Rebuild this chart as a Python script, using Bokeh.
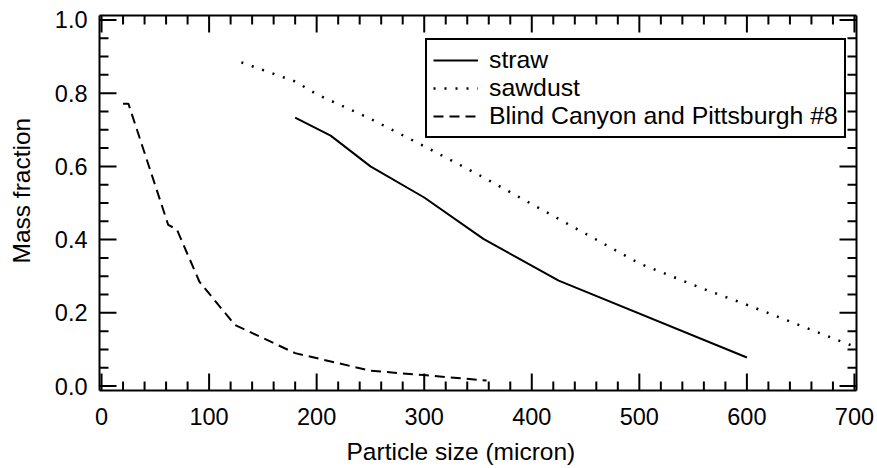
import math
from bokeh.plotting import figure
from bokeh.models import (LinearAxis, Range1d, SingleIntervalTicker, NumeralTickFormatter,
                          Legend, LegendItem, Title)
from bokeh.embed import file_html
from bokeh.resources import INLINE

# Mass fraction versus particle size
straw_x = [180, 213, 250, 300, 355, 425, 600]
straw_y = [0.733, 0.684, 0.600, 0.515, 0.402, 0.288, 0.078]

sawdust_x = [130, 180, 200, 250, 300, 350, 400, 450, 500, 560, 600, 650, 700]
sawdust_y = [0.884, 0.832, 0.797, 0.730, 0.655, 0.578, 0.497, 0.416, 0.335, 0.265, 0.222, 0.165, 0.108]

coal_x = [20, 25, 62, 70, 91, 124, 180, 250, 300, 358]
coal_y = [0.771, 0.771, 0.440, 0.428, 0.285, 0.167, 0.090, 0.042, 0.030, 0.015]

series_labels = ["straw", "sawdust", "Blind Canyon and Pittsburgh #8"]

# tick positions (inward ticks on all four sides)
x_major = [0, 100, 200, 300, 400, 500, 600, 700]
x_minor = [v for v in range(20, 700, 20) if v % 100]
y_major = [0.0, 0.2, 0.4, 0.6, 0.8, 1.0]
y_minor = [round(0.05 * k, 2) for k in range(1, 20) if k % 4]

X0, X1 = -1.9, 701.9
Y0, Y1 = -0.012, 1.012

FONT = "Liberation Sans"

p = figure(width=877, height=468, output_backend="svg", toolbar_location=None,
           x_range=Range1d(X0, X1), y_range=Range1d(Y0, Y1),
           x_axis_location=None, y_axis_location=None,
           min_border_left=99, min_border_right=21, min_border_top=15, min_border_bottom=78)
p.grid.visible = False
p.outline_line_color = None
p.background_fill_color = "white"
p.border_fill_color = "white"


def style_axis(ax, show_labels):
    ax.axis_line_color = "black"
    ax.axis_line_width = 2
    ax.major_tick_line_color = None
    ax.minor_tick_line_color = None
    ax.major_tick_in = 0
    ax.major_tick_out = 0
    ax.minor_tick_in = 0
    ax.minor_tick_out = 0
    if show_labels:
        ax.major_label_text_font = FONT
        ax.major_label_text_font_size = "23.5px"
        ax.major_label_text_color = "black"
    else:
        ax.major_label_text_font_size = "0px"
        ax.major_label_text_color = None
        ax.major_label_standoff = 0


xb = LinearAxis(ticker=SingleIntervalTicker(interval=100))
style_axis(xb, True)
xb.major_label_standoff = 17
# blank spacer line under the tick labels, keeps the title clear of them
xb.axis_label = " "
xb.axis_label_text_font_size = "7px"
xb.axis_label_standoff = 0
p.add_layout(xb, "below")

yl = LinearAxis(ticker=SingleIntervalTicker(interval=0.2), formatter=NumeralTickFormatter(format="0.0"))
style_axis(yl, True)
yl.major_label_standoff = 12
yl.axis_label = " "
yl.axis_label_text_font_size = "10px"
yl.axis_label_standoff = 1
p.add_layout(yl, "left")

xa = LinearAxis(ticker=SingleIntervalTicker(interval=100))
style_axis(xa, False)
p.add_layout(xa, "above")

yr = LinearAxis(ticker=SingleIntervalTicker(interval=0.2))
style_axis(yr, False)
p.add_layout(yr, "right")

# axis titles, set slightly off-centre along their axes
title_kw = dict(text_font=FONT, text_font_size="24.5px", text_font_style="normal",
                text_color="black", align="left", vertical_align="top", standoff=0)
p.add_layout(Title(text="Particle size (micron)", offset=247, **title_kw), "below")
p.add_layout(Title(text="Mass fraction", offset=127, **title_kw), "left")

# inward tick marks, drawn as screen-length rays from each frame edge
tick_kw = dict(line_color="black", line_width=2, length_units="screen")
for ticks, size in ((x_major, 17), (x_minor, 9)):
    p.ray(x=ticks, y=[Y0] * len(ticks), length=size, angle=math.pi / 2, **tick_kw)
    p.ray(x=ticks, y=[Y1] * len(ticks), length=size, angle=-math.pi / 2, **tick_kw)
for ticks, size in ((y_major, 17), (y_minor, 9)):
    p.ray(x=[X0] * len(ticks), y=ticks, length=size, angle=0, **tick_kw)
    p.ray(x=[X1] * len(ticks), y=ticks, length=size, angle=math.pi, **tick_kw)

r_straw = p.line(straw_x, straw_y, line_color="black", line_width=2)
r_saw = p.line(sawdust_x, sawdust_y, line_color="black", line_width=2.5, line_dash="2 9")
r_coal = p.line(coal_x, coal_y, line_color="black", line_width=2, line_dash="10 6")

legend = Legend(items=[LegendItem(label=series_labels[0], renderers=[r_straw]),
                       LegendItem(label=series_labels[1], renderers=[r_saw]),
                       LegendItem(label=series_labels[2], renderers=[r_coal])],
                location=(326, 252), orientation="vertical",
                label_text_font=FONT, label_text_font_size="24.8px", label_text_color="black",
                border_line_color="black", border_line_width=2, border_line_alpha=1,
                background_fill_alpha=1, padding=6, spacing=0, margin=0,
                glyph_width=45, glyph_height=26, label_height=26, label_standoff=11)
p.add_layout(legend, "center")

open("out.html", "w").write(file_html(p, INLINE))
